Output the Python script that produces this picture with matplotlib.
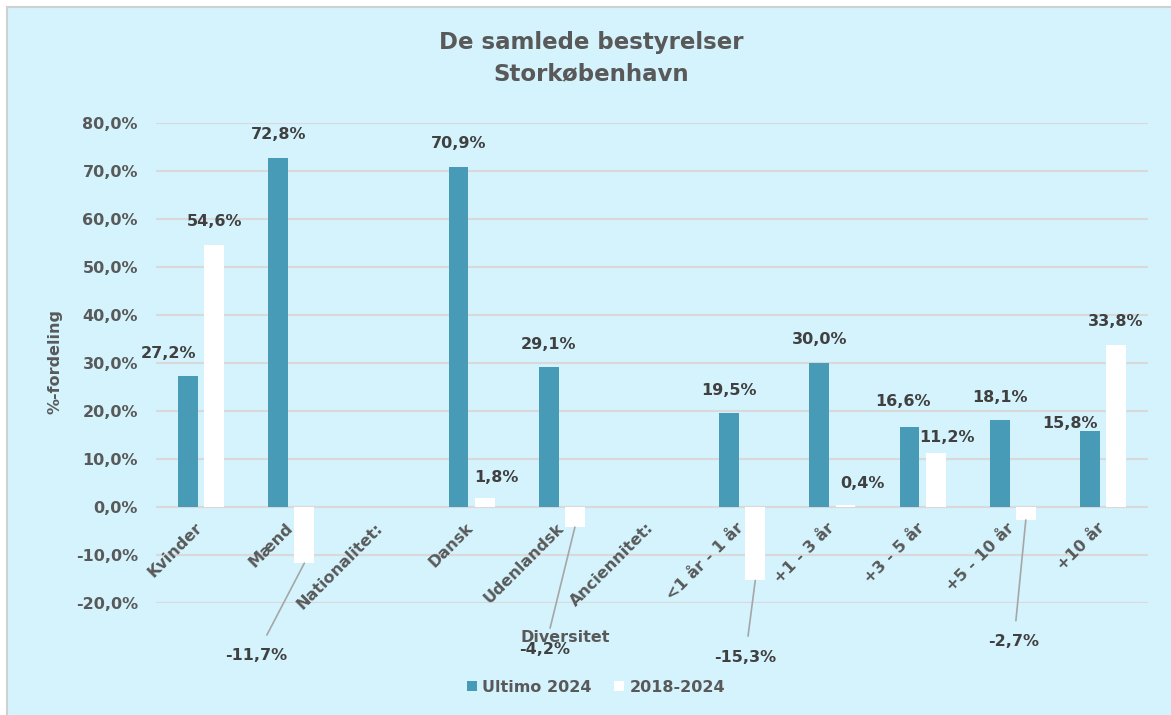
import numpy as np
import matplotlib
matplotlib.use("Agg")
import matplotlib.pyplot as plt
from matplotlib.patches import Rectangle
from matplotlib.transforms import ScaledTranslation

plt.rcParams['font.family'] = ['DejaVu Sans']
plt.rcParams['font.weight'] = 'bold'

# Data
kategorier = ['Kvinder', 'Mænd', 'Nationalitet:', 'Dansk', 'Udenlandsk', 'Anciennitet:',
              '<1 år - 1 år', '+1 - 3 år', '+3 - 5 år', '+5 - 10 år', '+10 år']
ultimo_2024 = [27.2, 72.8, np.nan, 70.9, 29.1, np.nan, 19.5, 30.0, 16.6, 18.1, 15.8]
aendring_2018_2024 = [54.6, -11.7, np.nan, 1.8, -4.2, np.nan, -15.3, 0.4, 11.2, -2.7, 33.8]
serie_navne = ['Ultimo 2024', '2018-2024']
yticks = [-20, -10, 0, 10, 20, 30, 40, 50, 60, 70, 80]

# label offsets (pixels) where Excel moved them by hand
off_ultimo = {0: (-20, 23), 8: (-7, 26), 10: (-20, 8)}
off_aendring = {3: (12, 21), 7: (17, 22), 8: (11, 16),
                1: (-48, -92), 4: (-30, -122), 6: (-10, -77), 9: (-12, -122)}

bg = '#d4f3fd'
teal = '#489bb7'
tekst = '#595959'
label_farve = '#404040'

W, H = 1171, 715
fig = plt.figure(figsize=(W / 100, H / 100), dpi=100)
fig.patch.set_facecolor('white')
fig.patches.append(Rectangle((7 / W, -0.05), 1.2, 1 - 7 / H + 0.05, transform=fig.transFigure,
                             facecolor=bg, edgecolor='#d0d0d0', linewidth=1.5, zorder=-10))

ax = fig.add_axes([156 / W, 1 - 603 / H, 992 / W, 480 / H])
ax.set_facecolor('none')

x = np.arange(len(kategorier))
bw = 0.22
b1 = ax.bar(x - 0.145, ultimo_2024, bw, color=teal, label=serie_navne[0], zorder=3)
b2 = ax.bar(x + 0.145, aendring_2018_2024, bw, color='white', label=serie_navne[1], zorder=3)

ax.set_ylim(-20, 80)
ax.set_xlim(-0.5, len(kategorier) - 0.5)
ax.set_yticks(yticks)
ax.set_yticklabels([f'{v:.1f}%'.replace('.', ',') for v in yticks], color=tekst, fontsize=11.5, fontweight='bold')
ax.yaxis.grid(True, color='#d9d9d9', linewidth=1.5, zorder=0)
for s in ax.spines.values():
    s.set_visible(False)
ax.spines['bottom'].set_position(('data', 0))
ax.tick_params(axis='y', length=0, pad=13)
ax.tick_params(axis='x', length=0, pad=9.5)
ax.set_xticks(x)
ax.set_xticklabels(kategorier, rotation=45, ha='right', va='top', rotation_mode='anchor',
                   color=tekst, fontsize=11.5, fontweight='bold')
skift = ScaledTranslation(-6 / 100, 0, fig.dpi_scale_trans)
for lbl in ax.get_xticklabels():
    lbl.set_transform(lbl.get_transform() + skift)
ax.xaxis.set_zorder(4)


def fmt(v):
    return f'{v:.1f}%'.replace('.', ',')


for serie, xs, offs in [(ultimo_2024, x - 0.145, off_ultimo), (aendring_2018_2024, x + 0.145, off_aendring)]:
    for i, v in enumerate(serie):
        if np.isnan(v):
            continue
        dx, dy = offs.get(i, (0, 23))
        if v < 0:
            ax.annotate(fmt(v), xy=(xs[i], v), xytext=(dx, dy), textcoords='offset pixels',
                        ha='center', va='center', fontsize=11.5, fontweight='bold', color=label_farve,
                        arrowprops=dict(arrowstyle='-', color='#a6a6a6', lw=1.2, shrinkA=8, shrinkB=0),
                        zorder=5)
        else:
            ax.annotate(fmt(v), xy=(xs[i], v), xytext=(dx, dy), textcoords='offset pixels',
                        ha='center', va='center', fontsize=11.5, fontweight='bold', color=label_farve,
                        zorder=5)

ax.set_ylabel('%-fordeling', color=tekst, fontsize=11.5, fontweight='bold')
ax.yaxis.set_label_coords((55 - 156) / 992, (603 - 362) / 480)
ax.yaxis.label.set_va('center')

fig.text(591 / W, 1 - 43 / H, 'De samlede bestyrelser', ha='center', va='center',
         fontsize=16.5, fontweight='bold', color=tekst)
fig.text(591 / W, 1 - 74 / H, 'Storkøbenhavn', ha='center', va='center',
         fontsize=16.5, fontweight='bold', color=tekst)
fig.text(565 / W, 1 - 637 / H, 'Diversitet', ha='center', va='center',
         fontsize=11.5, fontweight='bold', color=tekst)

leg = fig.legend(handles=[b1, b2], labels=serie_navne, loc='center', bbox_to_anchor=(596 / W, 1 - 687 / H),
                 ncol=2, frameon=False, fontsize=11.5, handlelength=0.6, handleheight=0.6,
                 handletextpad=0.35, columnspacing=1.4)
for t in leg.get_texts():
    t.set_color(tekst)
    t.set_fontweight('bold')

fig.savefig('out.png', dpi=100, facecolor=fig.get_facecolor())
